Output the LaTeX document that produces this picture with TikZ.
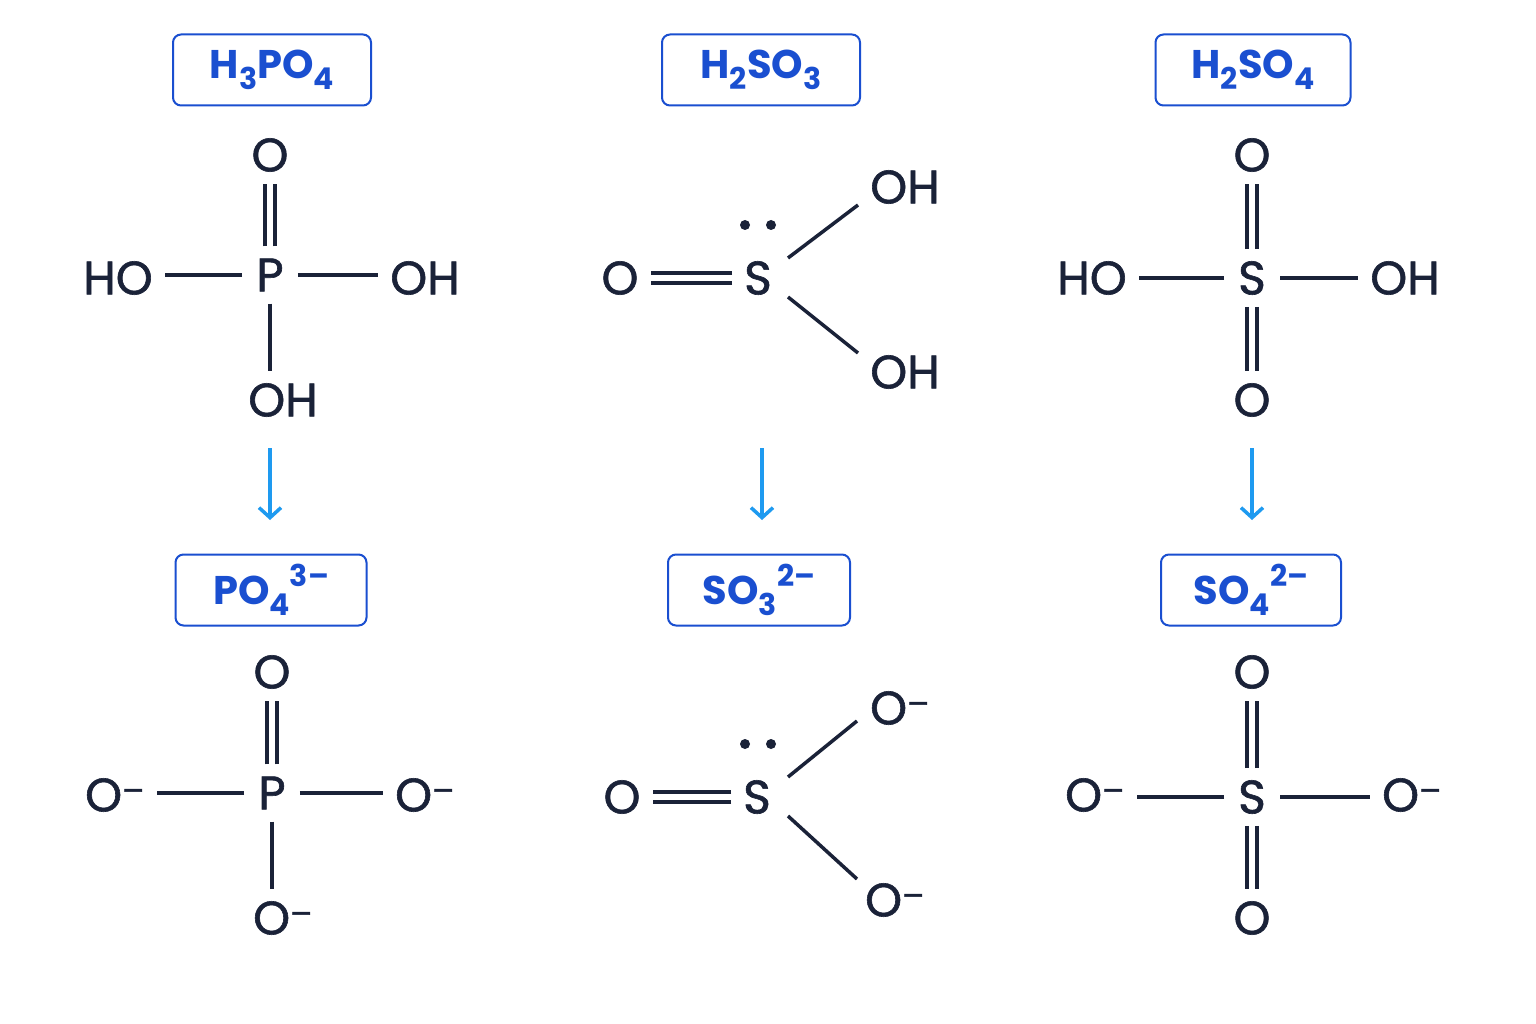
\documentclass[tikz,border=0pt]{standalone}
\usepackage{fontspec}
\setmainfont{Poppins}
\newfontfamily\atomf[FakeBold=1.3]{Poppins}
\newfontfamily\lblf{Poppins Bold}
\usetikzlibrary{arrows.meta,calc}
\definecolor{ink}{HTML}{1A2238}
\definecolor{lblue}{HTML}{1A4FD0}
\definecolor{arr}{HTML}{1E9AF0}
\begin{document}
\begin{tikzpicture}[x=1pt,y=-1pt,
  atom/.style={text=ink,font=\fontsize{47}{47}\atomf,inner sep=12pt},
  bond/.style={draw=ink,line width=3.5pt},
  lbl/.style={draw=lblue,text=lblue,line width=2pt,rounded corners=8pt,font=\fontsize{40}{40}\lblf,minimum height=71pt,inner xsep=14pt},
  rx/.style={draw=arr,line width=3.5pt,-{Straight Barb[length=10pt,width=22pt]}}]
\fill[white] (0,0) rectangle (1536,1024);
\newcommand{\mm}{\textsuperscript{–}}
\newcommand{\sbs}[1]{\raisebox{-0.28em}{\fontsize{30}{30}\selectfont #1}}
\newcommand{\sps}[1]{\raisebox{0.45em}{\fontsize{30}{30}\selectfont #1}}
% ===== column 1 =====
\node[lbl,minimum width=198pt] (L1) at (272,70) {H\sbs{3}PO\sbs{4}};
\node[atom] (P1) at (270,275) {P};
\node[atom] (P1t) at (270,155) {O};
\node[atom] (P1l) at (118,278) {HO};
\node[atom] (P1r) at (425,278) {OH};
\node[atom] (P1b) at (283,400) {OH};
\draw[bond] ([xshift=-5pt]P1.north) -- ([xshift=-5pt]P1t.south);
\draw[bond] ([xshift=5pt]P1.north) -- ([xshift=5pt]P1t.south);
\draw[bond] ([xshift=-2pt]P1.west) -- (P1.west -| P1l.east);
\draw[bond] ([xshift=2pt]P1.east) -- (P1.east -| P1r.west);
\draw[bond] (P1.south) -- (P1.south|-P1b.north);
\coordinate (A1s) at (270,448); \coordinate (A1e) at (270,520);
\draw[rx] (A1s) -- (A1e);
\node[lbl,minimum width=191pt] (L4) at (271,590) {PO\sbs{4}\sps{3–}};
\node[atom] (Q1) at (272,793) {P};
\node[atom] (Q1t) at (272,672) {O};
\node[atom] (Q1l) at (115,795) {O\mm};
\node[atom] (Q1r) at (425,795) {O\mm};
\node[atom] (Q1b) at (283,918) {O\mm};
\draw[bond] ([xshift=-5pt]Q1.north) -- ([xshift=-5pt]Q1t.south);
\draw[bond] ([xshift=5pt]Q1.north) -- ([xshift=5pt]Q1t.south);
\draw[bond] ([xshift=-2pt]Q1.west) -- (Q1.west -| Q1l.east);
\draw[bond] ([xshift=2pt]Q1.east) -- (Q1.east -| Q1r.west);
\draw[bond] (Q1.south) -- (Q1.south|-Q1b.north);
% ===== column 2 =====
\node[lbl,minimum width=198pt] (L2) at (761,70) {H\sbs{2}SO\sbs{3}};
\node[atom] (S2) at (758,278) {S};
\node[atom] (S2l) at (620,278) {O};
\node[atom] (S2u) at (905,187) {OH};
\node[atom] (S2d) at (905,372) {OH};
\draw[bond] ([yshift=-5pt]S2.west) -- ([yshift=-5pt]S2.west -| S2l.east);
\draw[bond] ([yshift=5pt]S2.west) -- ([yshift=5pt]S2.west -| S2l.east);
\fill[ink] (745,225) circle (5pt) (771,225) circle (5pt);
\draw[bond] ($(S2)+(30,-20)$) -- ($(S2u)+(-47,18)$);
\draw[bond] ($(S2)+(30,19)$) -- ($(S2d)+(-47,-19)$);
\coordinate (A2s) at (762,448); \coordinate (A2e) at (762,520);
\draw[rx] (A2s) -- (A2e);
\node[lbl,minimum width=182pt] (L5) at (759,590) {SO\sbs{3}\sps{2–}};
\node[atom] (T2) at (757,797) {S};
\node[atom] (T2l) at (622,797) {O};
\node[atom] (T2u) at (900,708) {O\mm};
\node[atom] (T2d) at (895,900) {O\mm};
\draw[bond] ([yshift=-5pt]T2.west) -- ([yshift=-5pt]T2.west -| T2l.east);
\draw[bond] ([yshift=5pt]T2.west) -- ([yshift=5pt]T2.west -| T2l.east);
\fill[ink] (745,744) circle (5pt) (771,744) circle (5pt);
\draw[bond] ($(T2)+(31,-20)$) -- ($(T2u)+(-43,13)$);
\draw[bond] ($(T2)+(31,19)$) -- ($(T2d)+(-38,-21)$);
% ===== column 3 =====
\node[lbl,minimum width=195pt] (L3) at (1253,70) {H\sbs{2}SO\sbs{4}};
\node[atom] (S3) at (1252,278) {S};
\node[atom] (S3t) at (1252,155) {O};
\node[atom] (S3b) at (1252,400) {O};
\node[atom] (S3l) at (1092,278) {HO};
\node[atom] (S3r) at (1405,278) {OH};
\foreach \d in {-5,5}{
  \draw[bond] ([xshift=\d pt]S3.north) -- ([xshift=\d pt]S3t.south);
  \draw[bond] ([xshift=\d pt]S3.south) -- ([xshift=\d pt]S3b.north);}
\draw[bond] ([xshift=-2pt]S3.west) -- (S3.west -| S3l.east);
\draw[bond] ([xshift=2pt]S3.east) -- (S3.east -| S3r.west);
\coordinate (A3s) at (1252,448); \coordinate (A3e) at (1252,520);
\draw[rx] (A3s) -- (A3e);
\node[lbl,minimum width=180pt] (L6) at (1251,590) {SO\sbs{4}\sps{2–}};
\node[atom] (U3) at (1252,797) {S};
\node[atom] (U3t) at (1252,672) {O};
\node[atom] (U3b) at (1252,918) {O};
\node[atom] (U3l) at (1095,795) {O\mm};
\node[atom] (U3r) at (1412,795) {O\mm};
\foreach \d in {-5,5}{
  \draw[bond] ([xshift=\d pt]U3.north) -- ([xshift=\d pt]U3t.south);
  \draw[bond] ([xshift=\d pt]U3.south) -- ([xshift=\d pt]U3b.north);}
\draw[bond] ([xshift=-2pt]U3.west) -- (U3.west -| U3l.east);
\draw[bond] ([xshift=2pt]U3.east) -- (U3.east -| U3r.west);
\end{tikzpicture}
\end{document}
